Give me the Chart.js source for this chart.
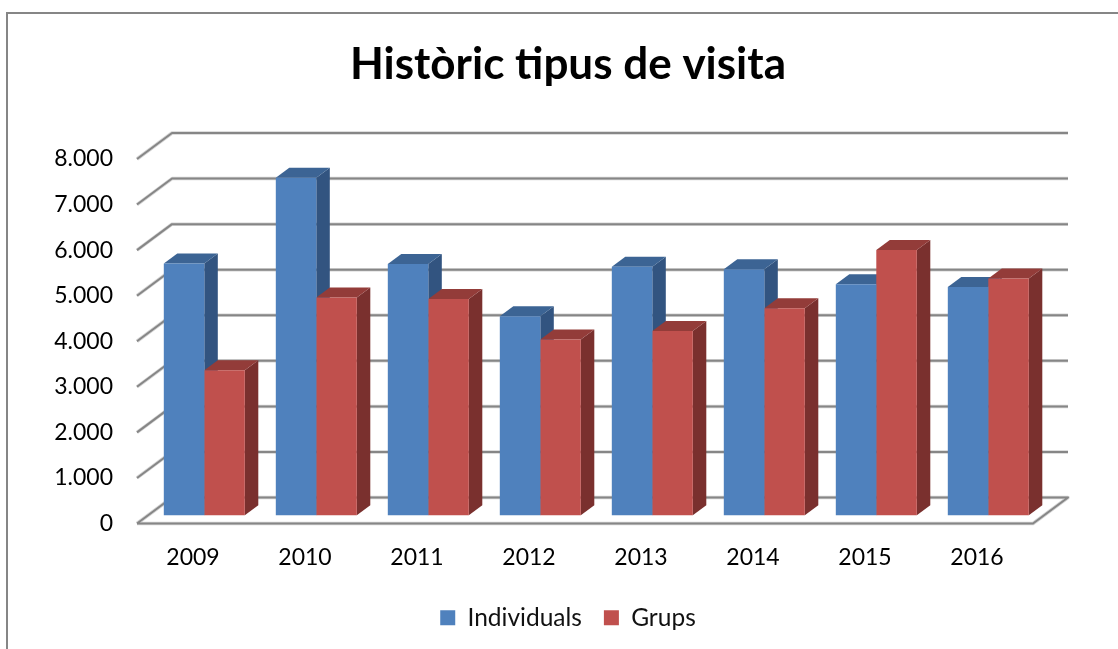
<!DOCTYPE html>
<html>
<head>
<meta charset="utf-8">
<style>
html,body{margin:0;padding:0;background:#fff;overflow:hidden}
canvas{display:block}
</style>
<script src="https://cdn.jsdelivr.net/npm/chart.js@4"></script>
</head>
<body>
<canvas id="c" width="1118" height="649"></canvas>
<script>
const chartTitle = "Històric tipus de visita";
const categories = ["2009","2010","2011","2012","2013","2014","2015","2016"];
const individuals = [5525,7407,5516,4367,5451,5400,5070,5011];
const grups = [3180,4778,4747,3855,4044,4543,5818,5196];
const yTickLabels = ["0","1.000","2.000","3.000","4.000","5.000","6.000","7.000","8.000"];
const fontFamily = "Lato";
const gridColor = "#868686";
const gridHalo = "#d4d4d4";
const blueFaces = {front:"#4F81BD", top:"#3C6494", side:"#325480"};
const redFaces = {front:"#C0504D", top:"#933C39", side:"#7A302E"};
const wall = {dx:35, dy:26};
const barShift = {x:11.3, y:-8.3};
const barDepth = {dx:13.5, dy:10};

const frame3d = {
  id:"frame3d",
  beforeDraw(chart){
    const c = chart.ctx;
    c.save();
    c.fillStyle="#fff"; c.fillRect(0,0,chart.width,chart.height);
    c.strokeStyle="#868686"; c.lineWidth=2;
    c.beginPath(); c.moveTo(7,649); c.lineTo(7,13); c.lineTo(1118,13); c.stroke();
    c.restore();
  },
  beforeDatasetsDraw(chart){
    const c = chart.ctx, y = chart.scales.y, a = chart.chartArea;
    c.save();
    c.lineJoin="round";
    [[gridHalo,3.5],[gridColor,2]].forEach(([col,w])=>{
      c.strokeStyle=col; c.lineWidth=w;
      yTickLabels.forEach((_,i)=>{
        const p = y.getPixelForValue(i*1000);
        c.beginPath();
        c.moveTo(a.left,p);
        c.lineTo(a.left+wall.dx,p-wall.dy);
        c.lineTo(a.right+wall.dx,p-wall.dy);
        if(i===0){ c.lineTo(a.right,p); c.lineTo(a.left,p); }
        c.stroke();
      });
    });
    // depth faces of the bars: blue first, red over it; front faces come from the library
    c.translate(barShift.x,barShift.y);
    const d = barDepth;
    [blueFaces,redFaces].forEach((faces,idx)=>{
      chart.getDatasetMeta(idx).data.forEach(b=>{
        const l=b.x-b.width/2, r=b.x+b.width/2, t=b.y, g=b.base;
        c.fillStyle=faces.side;
        c.beginPath(); c.moveTo(r,t); c.lineTo(r+d.dx,t-d.dy); c.lineTo(r+d.dx,g-d.dy); c.lineTo(r,g); c.closePath(); c.fill();
        c.fillStyle=faces.top;
        c.beginPath(); c.moveTo(l,t); c.lineTo(l+d.dx,t-d.dy); c.lineTo(r+d.dx,t-d.dy); c.lineTo(r,t); c.closePath(); c.fill();
      });
    });
    c.restore();
  },
  beforeDatasetDraw(chart){
    chart.ctx.save();
    chart.ctx.translate(barShift.x,barShift.y);
  },
  afterDatasetDraw(chart){ chart.ctx.restore(); }
};

new Chart(document.getElementById("c"),{
  type:"bar",
  data:{
    labels:categories,
    datasets:[
      {label:"Individuals",data:individuals,backgroundColor:blueFaces.front,clip:false},
      {label:"Grups",data:grups,backgroundColor:redFaces.front,clip:false}
    ]
  },
  options:{
    responsive:false,
    animation:false,
    devicePixelRatio:1,
    layout:{padding:{left:18,right:0,top:0,bottom:9}},
    datasets:{bar:{categoryPercentage:0.7232,barPercentage:1}},
    plugins:{
      tooltip:{enabled:false},
      title:{display:true,text:chartTitle,color:"#000",
        font:{family:fontFamily,size:44,weight:"bold",lineHeight:1.2},
        padding:{top:38,bottom:68.2}},
      legend:{position:"bottom",
        labels:{font:{family:fontFamily,size:24.5},color:"#111",boxWidth:15,boxHeight:15,padding:22}}
    },
    scales:{
      x:{grid:{display:false},border:{display:false},
        ticks:{color:"#000",font:{family:fontFamily,size:23},padding:12,maxRotation:0},
        afterFit(s){s.height=60;}},
      y:{min:0,max:8000,grid:{display:false},border:{display:false},
        ticks:{stepSize:1000,color:"#000",font:{family:fontFamily,size:23},padding:16,
          callback:(v)=>yTickLabels[v/1000]},
        afterFit(s){s.width=119;}},
      rightMargin:{type:"linear",position:"right",grid:{display:false},border:{display:false},
        ticks:{display:false},afterFit(s){s.width=85;}}
    }
  },
  plugins:[frame3d]
});
</script>
</body>
</html>
